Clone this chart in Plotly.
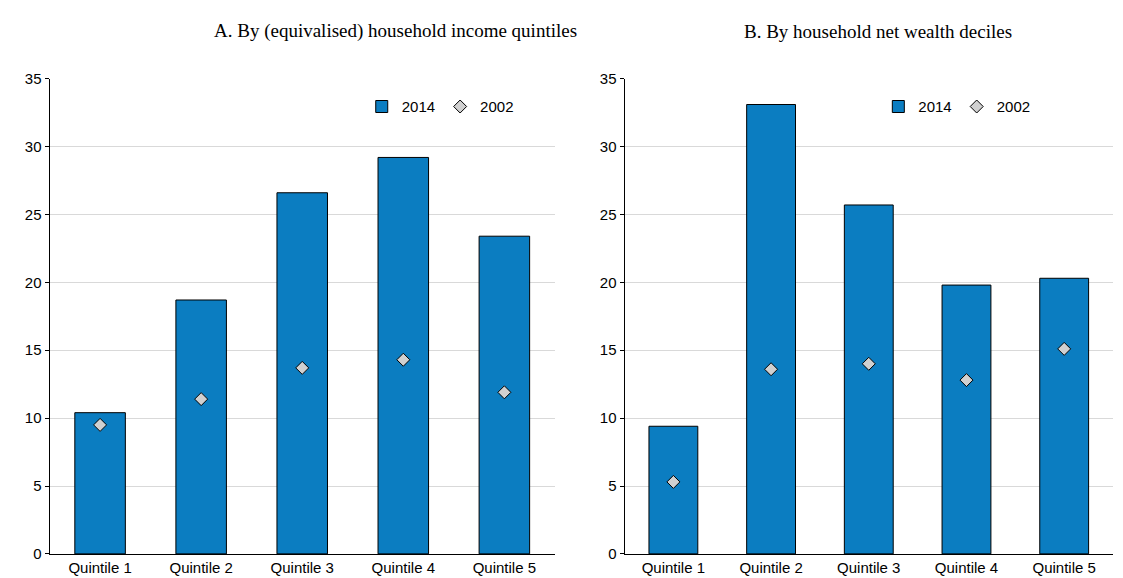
import plotly.graph_objects as go

categories = ["Quintile 1", "Quintile 2", "Quintile 3", "Quintile 4", "Quintile 5"]
income_2014 = [10.4, 18.7, 26.6, 29.2, 23.4]
income_2002 = [9.5, 11.4, 13.7, 14.3, 11.9]
wealth_2014 = [9.4, 33.1, 25.7, 19.8, 20.3]
wealth_2002 = [5.3, 13.6, 14.0, 12.8, 15.1]
titles = ["A. By (equivalised) household income quintiles", "B. By household net wealth deciles"]

bar_col = "#0B7DC1"
fig = go.Figure()

panels = [("x", "y", income_2014, income_2002, "legend"), ("x2", "y2", wealth_2014, wealth_2002, "legend2")]
for xa, ya, bars, dots, lg in panels:
    fig.add_trace(go.Bar(x=categories, y=bars, xaxis=xa, yaxis=ya, name="2014", legend=lg,
                         marker=dict(color=bar_col, line=dict(color="black", width=1)), width=0.5))
    fig.add_trace(go.Scatter(x=categories, y=dots, xaxis=xa, yaxis=ya, name="2002", legend=lg, mode="markers",
                             marker=dict(symbol="diamond", size=10, color="#D0D0D0", line=dict(color="black", width=1))))

yax = dict(range=[0, 35], dtick=5, showgrid=True, gridcolor="#D9D9D9", gridwidth=1, zeroline=False,
           showline=True, linecolor="black", ticks="outside", ticklen=4, tickcolor="black",
           tickfont=dict(family="Arial", size=15, color="black"))
xax = dict(showline=True, linecolor="black", ticks="", tickfont=dict(family="Arial", size=15, color="black"))
leg = dict(orientation="h", bgcolor="rgba(0,0,0,0)", font=dict(family="Arial", size=15, color="black"),
           yanchor="middle", y=0.84, xanchor="left", itemwidth=30)
tfont = dict(family="Times New Roman, Liberation Serif", size=19, color="black")

fig.update_layout(
    width=1123, height=578, margin=dict(l=0, r=0, t=0, b=0),
    plot_bgcolor="white", paper_bgcolor="white", barmode="overlay",
    xaxis=dict(domain=[0.037, 0.487], **xax),
    xaxis2=dict(domain=[0.549, 0.984], **xax),
    yaxis=dict(domain=[0.043, 0.89], anchor="x", **yax),
    yaxis2=dict(domain=[0.043, 0.89], anchor="x2", **yax),
    legend=dict(x=0.315, **leg),
    legend2=dict(x=0.775, **leg),
    annotations=[
        dict(text=titles[0], x=0.345, y=0.975, xref="paper", yref="paper", showarrow=False,
             xanchor="center", yanchor="middle", font=tfont),
        dict(text=titles[1], x=0.775, y=0.975, xref="paper", yref="paper", showarrow=False,
             xanchor="center", yanchor="middle", font=tfont),
    ],
)

fig.write_html("out.html")
